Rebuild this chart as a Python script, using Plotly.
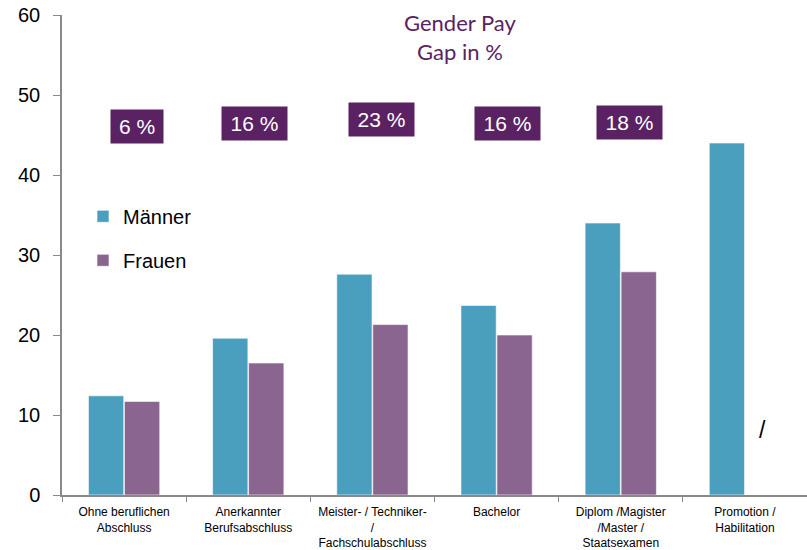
import plotly.graph_objects as go

categories = ["Ohne beruflichen<br>Abschluss", "Anerkannter<br>Berufsabschluss",
              "Meister- / Techniker-<br>/<br>Fachschulabschluss", "Bachelor",
              "Diplom /Magister<br>/Master /<br>Staatsexamen", "Promotion /<br>Habilitation"]
maenner = [12.4, 19.6, 27.6, 23.7, 34.0, 44.0]
frauen = [11.7, 16.5, 21.3, 20.0, 27.9, None]
gap_labels = ["6 %", "16 %", "23 %", "16 %", "18 %"]
y_ticks = [0, 10, 20, 30, 40, 50, 60]

PURPLE_DARK = "#5A2263"
TEAL = "#4B9FBE"
MAUVE = "#8A6590"
AXIS = "#898989"

fig = go.Figure()
fig.add_trace(go.Bar(name="Männer", x=categories, y=maenner, marker_color=TEAL,
                     marker_line=dict(color="rgba(255,255,255,0.6)", width=1),
                     legendgroup="m"))
fig.add_trace(go.Bar(name="Frauen", x=categories, y=frauen, marker_color=MAUVE,
                     marker_line=dict(color="rgba(255,255,255,0.6)", width=1),
                     legendgroup="f"))

# gap label boxes (layout positions)
shifts = [13, 6, 9, 11, 9]
ypos = [46.1, 46.4, 46.9, 46.5, 46.6]
annotations = []
for i, lab in enumerate(gap_labels):
    annotations.append(dict(
        x=categories[i], y=ypos[i], xref="x", yref="y", xshift=shifts[i],
        xanchor="center", yanchor="middle",
        text=lab, showarrow=False, bgcolor=PURPLE_DARK,
        font=dict(family="Liberation Sans, Arial", size=21, color="white"),
        width=52 if len(lab) < 4 else 65, height=33, borderpad=0))

annotations.append(dict(
    x=(460 - 62) / 745, y=(495.5 - 37) / 480.5, xref="paper", yref="paper",
    xanchor="center", yanchor="middle",
    text="Gender Pay<br>Gap in %", showarrow=False,
    font=dict(family="Lato, Open Sans", size=22, color=PURPLE_DARK)))

annotations.append(dict(
    x=categories[5], y=8.1, xref="x", yref="y", xshift=18,
    xanchor="center", yanchor="middle",
    text="/", showarrow=False,
    font=dict(family="Liberation Sans, Arial", size=23, color="black")))

fig.update_layout(
    width=807, height=550,
    margin=dict(l=62, r=0, t=15, b=55),
    paper_bgcolor="white", plot_bgcolor="white",
    barmode="group", bargap=0.42, bargroupgap=0.02,
    showlegend=True,
    legend=dict(x=(83 - 62) / 745, y=(495.5 - 197) / 480.5, xanchor="left", yanchor="top",
                font=dict(family="Liberation Sans, Arial", size=20, color="black"),
                traceorder="grouped", tracegroupgap=15, itemwidth=30,
                bgcolor="rgba(0,0,0,0)"),
    annotations=annotations,
    font=dict(family="Liberation Sans, Arial", color="black"),
)
fig.update_xaxes(showline=True, linecolor=AXIS, linewidth=1.5, automargin=False, tickangle=0,
                 ticks="outside", tickson="boundaries", ticklen=5, tickcolor=AXIS,
                 ticklabelstandoff=5,
                 tickfont=dict(family="Liberation Sans, Arial", size=12, color="black"),
                 showgrid=False, zeroline=False)
fig.update_yaxes(range=[0, 60], tickvals=y_ticks, showline=True, linecolor=AXIS, linewidth=1.5,
                 automargin=False,
                 ticks="outside", ticklen=7, tickcolor=AXIS, ticklabelstandoff=9,
                 tickfont=dict(family="Liberation Sans, Arial", size=20, color="black"),
                 showgrid=False, zeroline=False)

fig.write_html("out.html", config={"displayModeBar": False})

# remove default page margin so the figure sits at the window origin
with open("out.html", encoding="utf-8") as f:
    html = f.read()
html = html.replace("<body>", '<body style="margin:0;padding:0;">', 1)
with open("out.html", "w", encoding="utf-8") as f:
    f.write(html)
